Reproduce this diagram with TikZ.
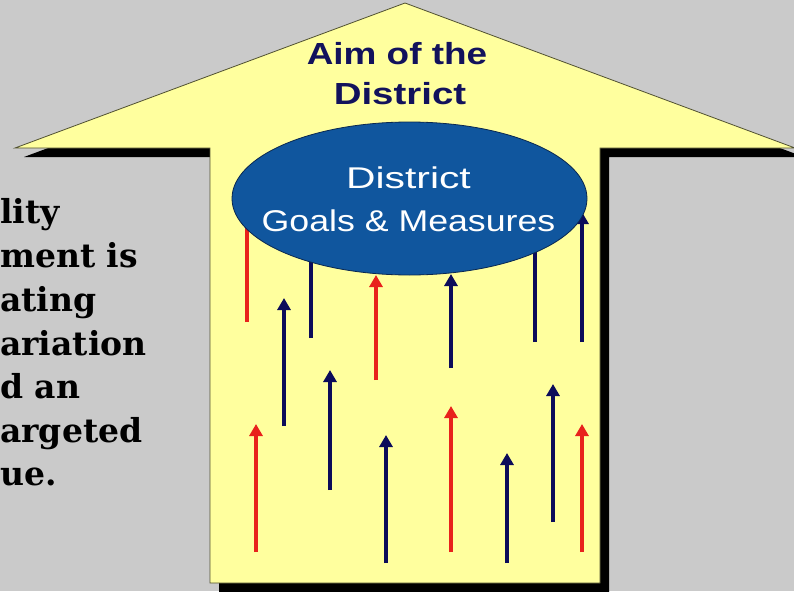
\documentclass[tikz,border=0pt]{standalone}
\usepackage{fontspec}
\setmainfont{Liberation Sans}
\newfontfamily\serifbold{DejaVu Serif}
\usetikzlibrary{arrows.meta,shapes.geometric}
\definecolor{bggray}{RGB}{202,202,202}
\definecolor{paleyellow}{RGB}{255,255,158}
\definecolor{edgeolive}{RGB}{80,80,50}
\definecolor{ellblue}{RGB}{16,86,158}
\definecolor{ellline}{RGB}{10,40,80}
\definecolor{titlenavy}{RGB}{18,18,92}
\definecolor{arnavy}{RGB}{12,12,90}
\definecolor{arred}{RGB}{232,34,28}
\begin{document}
\begin{tikzpicture}[x=1pt,y=-1pt,
  upar/.style={line width=4pt,-{Triangle[width=13pt,length=12pt]}},
  redar/.style={upar,draw=arred},
  bluar/.style={upar,draw=arnavy},
  titletext/.style={anchor=base,inner sep=0pt,text=titlenavy,font=\bfseries\fontsize{30.5}{36}\selectfont},
  goaltext/.style={anchor=base,inner sep=0pt,text=white,font=\fontsize{30}{36}\selectfont},
  sidetext/.style={anchor=base west,inner sep=0pt,text=black,font=\serifbold\bfseries\fontsize{33}{40}\selectfont}]
\fill[bggray] (0,0) rectangle (794,591);
\useasboundingbox (0,0) rectangle (794,591);
% shadow
\fill[black,shift={(9,9)}] (405,3) -- (795,148) -- (600,148) -- (600,583) -- (210,583) -- (210,148) -- (15,148) -- cycle;
% big up arrow
\filldraw[fill=paleyellow,draw=edgeolive,line width=0.8pt] (405,3) -- (795,148) -- (600,148) -- (600,583) -- (210,583) -- (210,148) -- (15,148) -- cycle;
% small arrows, upper row (behind the ellipse)
\draw[redar] (247,322) -- (247,200);
\draw[bluar] (311,338) -- (311,220);
\draw[redar] (376,380) -- (376,275);
\draw[bluar] (451,368) -- (451,274);
\draw[bluar] (535,342) -- (535,215);
\draw[bluar] (582,342) -- (582,212);
% small arrows, lower rows
\draw[redar] (256,552) -- (256,424);
\draw[bluar] (284,426) -- (284,298);
\draw[bluar] (330,490) -- (330,370);
\draw[bluar] (386,563) -- (386,435);
\draw[redar] (451,552) -- (451,406);
\draw[bluar] (507,563) -- (507,453);
\draw[bluar] (553,522) -- (553,384);
\draw[redar] (582,552) -- (582,424);
% ellipse
\node[ellipse,minimum width=355pt,minimum height=153pt,inner sep=0pt,fill=ellblue,draw=ellline,line width=0.8pt] (goals) at (409.5,198.5) {};
\node[goaltext] (goals1) at (408.5,188) {\scalebox{1.36}[1]{District}};
\node[goaltext] (goals2) at (408.5,231) {\scalebox{1.19}[1]{Goals \& Measures}};
% title
\node[titletext] (aim1) at (397,65) {\scalebox{1.21}[1]{Aim of the}};
\node[titletext] (aim2) at (400,105) {\scalebox{1.26}[1]{District}};
% side text
\node[sidetext] (s1) at (0,223) {lity};
\node[sidetext] (s2) at (0,267) {ment is};
\node[sidetext] (s3) at (0,311) {ating};
\node[sidetext] (s4) at (0,355) {ariation};
\node[sidetext] (s5) at (0,398) {d an};
\node[sidetext] (s6) at (0,442) {argeted};
\node[sidetext] (s7) at (0,485) {ue.};
\end{tikzpicture}
\end{document}
